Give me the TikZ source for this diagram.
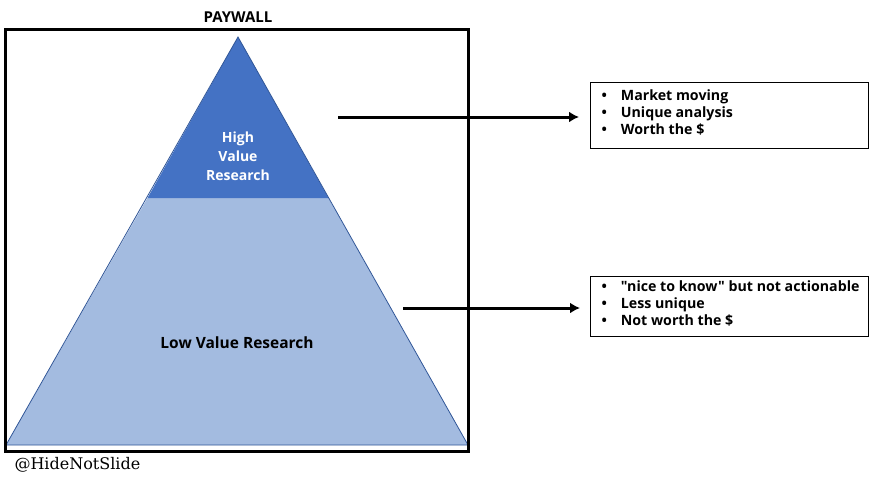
\documentclass[tikz,border=0pt]{standalone}
\usepackage{fontspec}
\setmainfont{Open Sans}[Ligatures=TeXOff]
\newfontfamily\serifhand{DejaVu Serif}
\usetikzlibrary{arrows.meta}
\definecolor{hiblue}{HTML}{4472C4}
\definecolor{loblue}{HTML}{A3BBE0}
\definecolor{edgeblue}{HTML}{2F5597}
\tikzset{
  lbl/.style={font=\bfseries\fontsize{14.2}{17}\selectfont, align=left, anchor=west},
  bullbox/.style={draw=black, line width=1pt},
  arr/.style={line width=3pt, -{Latex[length=10pt,width=11pt]}},
}
\begin{document}
\begin{tikzpicture}[x=1pt,y=-1pt]
\useasboundingbox (0,0) rectangle (880,485);
% triangle
\coordinate (apex) at (238,37);
\coordinate (bl) at (6,445);
\coordinate (br) at (468,445);
\coordinate (sl) at (147.5,198);
\coordinate (sr) at (328.5,198);
\fill[loblue] (sl) -- (sr) -- (br) -- (bl) -- cycle;
\fill[hiblue] (apex) -- (sr) -- (sl) -- cycle;
\draw[edgeblue, line width=0.8pt] (apex) -- (br) -- (bl) -- cycle;
% frame
\draw[line width=3pt] (5.5,29.5) rectangle (468.5,451.5);
% texts
\node[font=\bfseries\fontsize{15}{18}\selectfont] (pay) at (238,17) {PAYWALL};
\node[font=\bfseries\fontsize{14}{19}\selectfont, text=white, align=center] (hi) at (238,156) {High\\Value\\Research};
\node[font=\bfseries\fontsize{15.5}{18}\selectfont] (lo) at (237,343) {Low Value Research};
\node[font=\serifhand\fontsize{16}{18}\selectfont, anchor=west] (tag) at (11,465) {@HideNotSlide};
% boxes
\node[bullbox, minimum width=278pt, minimum height=66pt, anchor=north west] (b1) at (590,82) {};
\node[lbl] (t1) at (598,113) {\textbullet\hspace{14pt}Market moving\\\textbullet\hspace{14pt}Unique analysis\\\textbullet\hspace{14pt}Worth the \$};
\node[bullbox, minimum width=278pt, minimum height=60pt, anchor=north west] (b2) at (590,276) {};
\node[lbl] (t2) at (598,304) {\textbullet\hspace{14pt}"nice to know" but not actionable\\\textbullet\hspace{14pt}Less unique\\\textbullet\hspace{14pt}Not worth the \$};
% arrows
\coordinate (a1) at (338,117);
\coordinate (a2) at (403,308);
\draw[arr] (a1) -- ([xshift=-11pt]b1.west |- a1);
\draw[arr] (a2) -- ([xshift=-10pt]b2.west |- a2);
\end{tikzpicture}
\end{document}
